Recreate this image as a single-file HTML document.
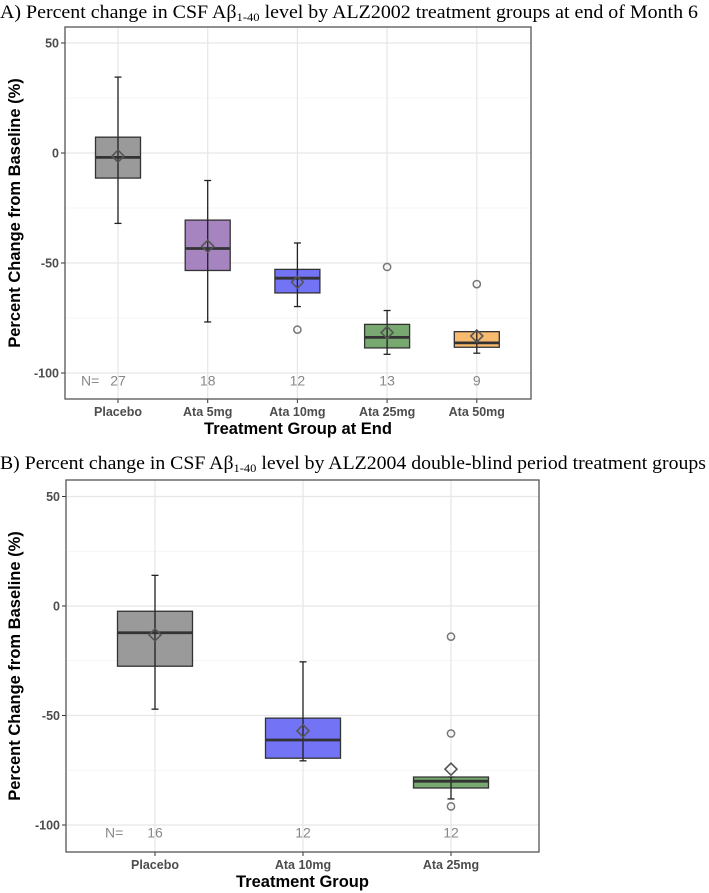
<!DOCTYPE html>
<html><head><meta charset="utf-8"><style>
body{margin:0;background:#fff;width:709px;height:893px;overflow:hidden}
svg{display:block}
.ttl{font-family:"Liberation Serif",serif;font-size:19px;fill:#000}
.tick{font-family:"Liberation Sans",sans-serif;font-size:12.5px;font-weight:bold;fill:#4d4d4d}
.axt{font-family:"Liberation Sans",sans-serif;font-size:16.5px;font-weight:bold;fill:#000}
.nlab{font-family:"Liberation Sans",sans-serif;font-size:14px;fill:#888}
</style></head><body>
<svg id="chart" width="709" height="893" xmlns="http://www.w3.org/2000/svg">
<text class="ttl" x="0" y="18" textLength="698" lengthAdjust="spacingAndGlyphs">A) Percent change in CSF Aβ<tspan font-size="12" dy="3">1-40</tspan><tspan dy="-3"> level by ALZ2002 treatment groups at end of Month 6</tspan></text>
<text class="ttl" x="0" y="469" textLength="706" lengthAdjust="spacingAndGlyphs">B) Percent change in CSF Aβ<tspan font-size="12" dy="3">1-40</tspan><tspan dy="-3"> level by ALZ2004 double-blind period treatment groups</tspan></text>
</svg>
<script>
// Panel A data
const catsA = ["Placebo","Ata 5mg","Ata 10mg","Ata 25mg","Ata 50mg"];
const nA = ["27","18","12","13","9"];
const whiskerHiA = [34.5,-12.5,-40.9,-71.6,-81.2];
const q3A = [7.2,-30.5,-52.9,-77.9,-81.2];
const medianA = [-2,-43.4,-56.9,-83.8,-86.3];
const q1A = [-11.4,-53.4,-63.6,-88.6,-88.3];
const whiskerLoA = [-32,-76.8,-69.8,-91.5,-91];
const meanA = [-1.4,-42.4,-58.7,-81.6,-83.2];
const outliersA = [[],[],[-80.3],[-51.8],[-59.6]];
const colorsA = ["#8f8f8f","#9b77b8","#6464f5","#69a060","#f6b35e"];
// Panel B data
const catsB = ["Placebo","Ata 10mg","Ata 25mg"];
const nB = ["16","12","12"];
const whiskerHiB = [14,-25.5,-78.1];
const q3B = [-2.4,-51.2,-78.1];
const medianB = [-12.2,-61.2,-80];
const q1B = [-27.5,-69.5,-83.1];
const whiskerLoB = [-47.1,-70.7,-88.1];
const meanB = [-13.2,-57,-74.5];
const outliersB = [[],[],[-14,-58.2,-91.5]];
const colorsB = ["#8f8f8f","#6464f5","#69a060"];
const yTicks = [50,0,-50,-100];
const yMinor = [25,-25,-75];

const svg = document.getElementById('chart');
const NS = "http://www.w3.org/2000/svg";
function mk(tag, attrs, parent){
  const e = document.createElementNS(NS, tag);
  for (const k in attrs) e.setAttribute(k, attrs[k]);
  (parent||svg).appendChild(e); return e;
}
function panel(p){
  const g = mk('g', {});
  
  
  const ppu = (p.ym50 - p.y0) / 50;
  const y = v => p.y0 - v * ppu;
  const x = i => p.x0 + i * p.step;
  yMinor.forEach(v => mk('line',{x1:p.left,x2:p.right,y1:y(v),y2:y(v),stroke:'#f2f2f2','stroke-width':0.8},g));
  yTicks.forEach(v => {
    const l = mk('line',{x1:p.left,x2:p.right,y1:y(v),y2:y(v),stroke:'#e6e6e6','stroke-width':1.2},g);
    
    
  });
  p.cats.forEach((c,i) => mk('line',{x1:x(i),x2:x(i),y1:p.top,y2:p.bottom,stroke:'#e6e6e6','stroke-width':1.2},g));
  yTicks.forEach(v => {
    mk('line',{x1:p.left-4,x2:p.left,y1:y(v),y2:y(v),stroke:'#333','stroke-width':1},g);
    const t = mk('text',{x:p.left-6,y:y(v)+4.5,'text-anchor':'end',class:'tick'},g);
    t.textContent = v;
    
    
  });
  p.cats.forEach((c,i) => {
    const cx = x(i);
    const bw = p.bw;
    const w = mk('line',{x1:cx,x2:cx,y1:y(p.hi[i]),y2:y(p.lo[i]),stroke:'#222','stroke-width':1.3},g);
    
    
    [p.hi[i],p.lo[i]].forEach(v => mk('line',{x1:cx-3.5,x2:cx+3.5,y1:y(v),y2:y(v),stroke:'#222','stroke-width':1.3},g));
    const b = mk('rect',{x:cx-bw/2,y:y(p.q3[i]),width:bw,height:y(p.q1[i])-y(p.q3[i]),fill:p.colors[i],'fill-opacity':0.9,stroke:'#333','stroke-width':1.3},g);
    
    
    mk('line',{x1:cx,x2:cx,y1:y(p.q3[i]),y2:y(p.q1[i]),stroke:'#222','stroke-width':1.3},g);
    mk('line',{x1:cx-bw/2,x2:cx+bw/2,y1:y(p.med[i]),y2:y(p.med[i]),stroke:'#333','stroke-width':2.8},g);
    const my = y(p.mean[i]);
    const d = mk('polygon',{points:`${cx},${my-6} ${cx+6},${my} ${cx},${my+6} ${cx-6},${my}`,fill:'none',stroke:'#555','stroke-width':1.6},g);
    
    
    p.out[i].forEach(v => {
      const o = mk('circle',{cx:cx,cy:y(v),r:3.6,fill:'none',stroke:'#777','stroke-width':1.5},g);
      
      
    });
    const nt = mk('text',{x:cx,y:y(-103)+6,'text-anchor':'middle',class:'nlab'},g);
    nt.textContent = p.n[i];
    
    
    mk('line',{x1:cx,x2:cx,y1:p.bottom,y2:p.bottom+4,stroke:'#333','stroke-width':1},g);
    const xl = mk('text',{x:cx,y:p.bottom+17,'text-anchor':'middle',class:'tick'},g);
    xl.textContent = c;
    
    
  });
  const nl = mk('text',{x:p.nX,y:y(-103)+6,class:'nlab'},g);
  nl.textContent = 'N=';
  
  
  const fr = mk('rect',{x:p.left,y:p.top,width:p.right-p.left,height:p.bottom-p.top,fill:'none',stroke:'#555','stroke-width':1.3},g);
  
  
  const yt = mk('text',{x:0,y:0,'text-anchor':'middle',class:'axt',transform:`translate(20,${(p.top+p.bottom)/2}) rotate(-90)`},g);
  yt.textContent = 'Percent Change from Baseline (%)';
  
  
  const xt = mk('text',{x:(p.left+p.right)/2,y:p.bottom+35,'text-anchor':'middle',class:'axt'},g);
  xt.textContent = p.xtitle;
  
  
}
panel({name:'panel-a',left:65,right:531,top:27,bottom:399,y0:153,ym50:263,x0:118,step:89.7,bw:45,
  cats:catsA,n:nA,hi:whiskerHiA,q3:q3A,med:medianA,q1:q1A,lo:whiskerLoA,mean:meanA,out:outliersA,colors:colorsA,nX:81,xtitle:'Treatment Group at End'});
panel({name:'panel-b',left:66,right:539,top:480,bottom:852,y0:606,ym50:715.5,x0:155,step:148,bw:75,
  cats:catsB,n:nB,hi:whiskerHiB,q3:q3B,med:medianB,q1:q1B,lo:whiskerLoB,mean:meanB,out:outliersB,colors:colorsB,nX:105,xtitle:'Treatment Group'});
</script>
</body></html>
